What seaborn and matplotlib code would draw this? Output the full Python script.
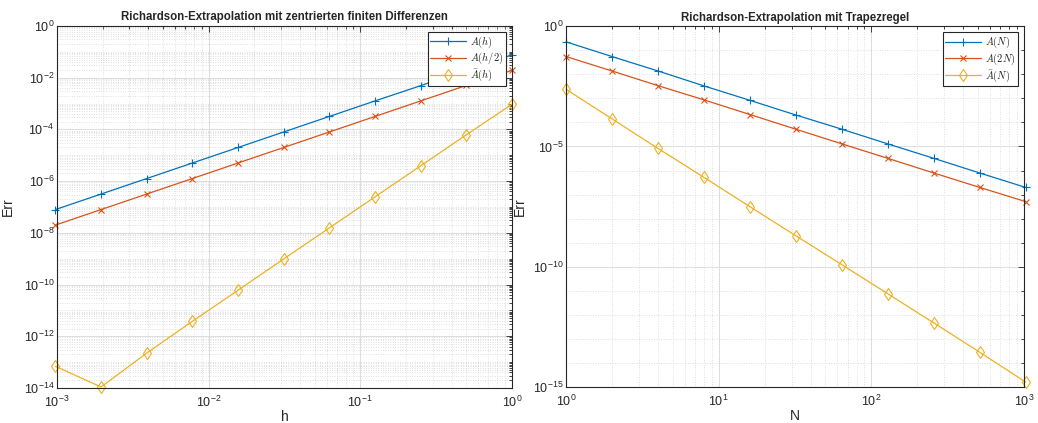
import numpy as np
import pandas as pd
import seaborn as sns
import matplotlib as mpl
from matplotlib import pyplot as plt
from matplotlib.ticker import FixedLocator, LogFormatterMathtext, NullFormatter

# left panel: centered finite differences, h = 2^0 ... 2^-10
h = 2.0 ** -np.arange(0, 11)
log_err_h = [-1.12, -1.71, -2.31, -2.90, -3.50, -4.10, -4.70, -5.30, -5.90, -6.50, -7.10]
log_err_h2 = [-1.72, -2.30, -2.90, -3.50, -4.10, -4.70, -5.30, -5.90, -6.50, -7.10, -7.70]
log_err_hbar = [-3.03, -4.21, -5.41, -6.61, -7.81, -9.01, -10.22, -11.42, -12.65, -13.96, -13.16]

# right panel: trapezoidal rule, N = 1 ... 1024
N = 2.0 ** np.arange(0, 11)
log_err_N = [-0.65, -1.26, -1.86, -2.48, -3.08, -3.69, -4.28, -4.89, -5.49, -6.10, -6.70]
log_err_2N = [-1.26, -1.86, -2.47, -3.06, -3.67, -4.28, -4.89, -5.49, -6.10, -6.70, -7.29]
log_err_Nbar = [-2.62, -3.85, -5.08, -6.28, -7.50, -8.71, -9.91, -11.12, -12.33, -13.55, -14.79]

colors = ['#0072BD', '#D95319', '#EDB120']
markers = ['+', 'x', 'd']
msizes = [6, 4.5, 6]

sns.set_style('white')
plt.rcParams['font.family'] = ['Liberation Sans', 'DejaVu Sans']
plt.rcParams['mathtext.fontset'] = 'cm'
plt.rcParams['axes.edgecolor'] = '#262626'
plt.rcParams['xtick.color'] = '#262626'
plt.rcParams['ytick.color'] = '#262626'

fig = plt.figure(figsize=(10.38, 4.23), dpi=100)
ax1 = fig.add_axes([0.0549, 0.0827, 0.4383, 0.856])
ax2 = fig.add_axes([0.5453, 0.0850, 0.4412, 0.853])


def draw(ax, x, series, labels):
    for vals, lab, c, m, ms in zip(series, labels, colors, markers, msizes):
        df = pd.DataFrame({'x': x, 'err': 10.0 ** np.array(vals)})
        kw = dict(markerfacecolor='none', markeredgecolor=c) if m == 'd' else dict(markeredgecolor=c)
        sns.lineplot(data=df, x='x', y='err', ax=ax, color=c, marker=m, markersize=ms,
                     markeredgewidth=0.8, linewidth=0.9, label=lab, clip_on=False, **kw)
    ax.set_xscale('log')
    ax.set_yscale('log')
    ax.tick_params(which='both', direction='in', top=True, right=True, labelsize=9,
                   width=0.6)
    ax.tick_params(axis='x', pad=5)
    ax.tick_params(axis='y', pad=2)
    ax.tick_params(which='major', length=4)
    ax.tick_params(which='minor', length=2)
    ax.grid(which='major', color='#dcdcdc', linewidth=0.7, linestyle='-')
    ax.grid(which='minor', color='#c4c4c4', linewidth=0.5, linestyle=(0, (1, 2.5)))
    ax.set_axisbelow(True)
    for s in ax.spines.values():
        s.set_linewidth(0.8)
    leg = ax.legend(loc='upper right', fontsize=7.5, frameon=True, fancybox=False,
                    edgecolor='#262626', framealpha=1, borderpad=0.25, labelspacing=0.1,
                    handlelength=3.4, handletextpad=0.4, borderaxespad=0.6)
    leg.get_frame().set_linewidth(0.8)


def minor_locs(lo, hi, skip):
    locs = []
    for k in range(lo, hi):
        for m in range(1, 10):
            v = m * 10.0 ** k
            if not (m == 1 and k in skip):
                locs.append(v)
    return locs


# left
draw(ax1, h, [log_err_h, log_err_h2, log_err_hbar],
     [r'$A(h)$', r'$A(h/2)$', r'$\bar{A}(h)$'])
ax1.set_xlim(1e-3, 1)
ax1.set_ylim(1e-14, 1)
ax1.yaxis.set_major_locator(FixedLocator([10.0 ** k for k in range(-14, 1, 2)]))
ax1.yaxis.set_minor_locator(FixedLocator(minor_locs(-14, 0, range(-14, 1, 2))))
ax1.xaxis.set_major_locator(FixedLocator([1e-3, 1e-2, 1e-1, 1]))
ax1.xaxis.set_minor_locator(FixedLocator(minor_locs(-3, 0, [-3, -2, -1])))
ax1.set_title('Richardson-Extrapolation mit zentrierten finiten Differenzen',
              fontsize=8.3, fontweight='bold', pad=4)
ax1.set_xlabel('h', fontsize=10, labelpad=0)
ax1.set_ylabel('Err', fontsize=10, labelpad=6)

# right
draw(ax2, N, [log_err_N, log_err_2N, log_err_Nbar],
     [r'$A(N)$', r'$A(2N)$', r'$\bar{A}(N)$'])
ax2.set_xlim(1, 1e3)
ax2.set_ylim(1e-15, 1)
ax2.yaxis.set_major_locator(FixedLocator([1, 1e-5, 1e-10, 1e-15]))
ax2.yaxis.set_minor_locator(FixedLocator([10.0 ** k for k in range(-15, 0) if k % 5 != 0]))
ax2.xaxis.set_major_locator(FixedLocator([1, 1e1, 1e2, 1e3]))
ax2.xaxis.set_minor_locator(FixedLocator(minor_locs(0, 3, [0, 1, 2])))
ax2.set_title('Richardson-Extrapolation mit Trapezregel',
              fontsize=8.3, fontweight='bold', pad=4)
ax2.set_xlabel('N', fontsize=10, labelpad=0)
ax2.set_ylabel('Err', fontsize=10, labelpad=4)

for ax in (ax1, ax2):
    ax.xaxis.set_major_formatter(LogFormatterMathtext())
    ax.yaxis.set_major_formatter(LogFormatterMathtext())
    ax.xaxis.set_minor_formatter(NullFormatter())
    ax.yaxis.set_minor_formatter(NullFormatter())

fig.savefig('out.png', dpi=100)
